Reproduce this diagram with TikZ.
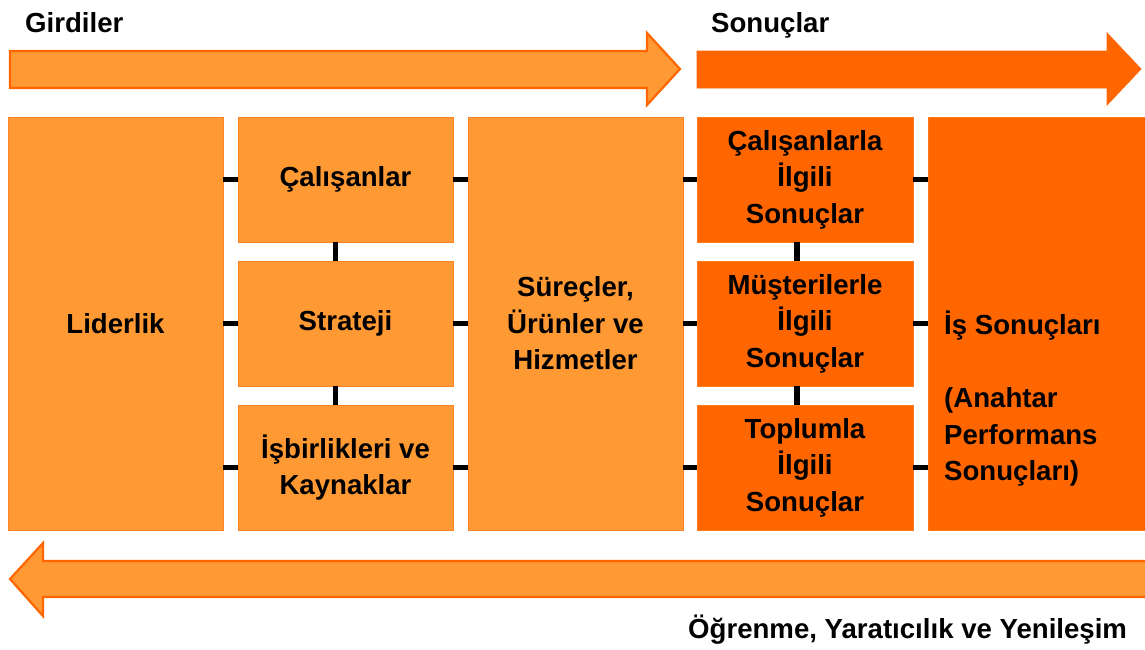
\documentclass[tikz,border=0pt]{standalone}
\usepackage{fontspec}
\setmainfont{Liberation Sans}
\definecolor{lor}{HTML}{FF9933}
\definecolor{dor}{HTML}{FF6600}
\definecolor{lorline}{HTML}{FF8224}
\definecolor{dorline}{HTML}{FF7A1C}
\begin{document}
\begin{tikzpicture}[x=1pt,y=-1pt,
  txt/.style={font=\fontsize{27.6}{36.5}\selectfont\bfseries, inner sep=0pt},
  lbox/.style={txt, draw=lorline, line width=0.8pt, fill=lor, align=center, minimum width=215pt},
  dbox/.style={txt, draw=dorline, line width=0.8pt, fill=dor, align=center, minimum width=216pt},
  tallh/.style={minimum height=413pt},
  shorth/.style={minimum height=125pt},
  conn/.style={draw=black, line width=5.5pt}
]
\useasboundingbox (0,0) rectangle (1145,649);
\begin{scope}
\clip (0,0) rectangle (1145,649);
% top arrows
\fill[lor, draw=dor, line width=2.2pt, line join=miter]
  (10,51) -- (647,51) -- (647,33) -- (680,69) -- (647,105) -- (647,88) -- (10,88) -- cycle;
\fill[dor, draw=dor, line width=0.8pt]
  (697,51) -- (1107,51) -- (1107,33) -- (1141,69) -- (1107,105) -- (1107,88) -- (697,88) -- cycle;
% bottom arrow
\fill[lor, draw=dor, line width=2.2pt, line join=miter]
  (1160,561) -- (43,561) -- (43,543) -- (10,579) -- (43,616) -- (43,597) -- (1160,597) -- cycle;
\end{scope}

\node[txt, anchor=base west] (gird) at (25,32) {Girdiler};
\node[txt, anchor=base west] (sonu) at (711,32) {Sonuçlar};
\node[txt, anchor=base west] (ogren) at (688,638) {Öğrenme, Yaratıcılık ve Yenileşim};

% boxes
\node[lbox, tallh] (lid) at (115.5,323.5) {Liderlik};
\node[lbox, shorth] (cal) at (345.5,179.5) {Çalışanlar};
\node[lbox, shorth] (str) at (345.5,323.5) {Strateji};
\node[lbox, shorth] (isb) at (345.5,467.5) {İşbirlikleri ve\\Kaynaklar};
\node[lbox, tallh] (sur) at (575.5,323.5) {Süreçler,\\Ürünler ve\\Hizmetler};
\node[dbox, shorth] (ca) at (805,179.5) {Çalışanlarla\\İlgili\\Sonuçlar};
\node[dbox, shorth] (cb) at (805,323.5) {Müşterilerle\\İlgili\\Sonuçlar};
\node[dbox, shorth] (cc) at (805,467.5) {Toplumla\\İlgili\\Sonuçlar};
\node[dbox, tallh, minimum width=218pt] (is) at (1037,323.5) {};
\node[txt, anchor=west, align=left] (istxt) at (944,399) {İş Sonuçları\\[36.5pt](Anahtar\\Performans\\Sonuçları)};

% connectors
\foreach \b in {cal,str,isb}{
  \draw[conn] (\b.west -| lid.east) -- (\b.west);
  \draw[conn] (\b.east) -- (\b.east -| sur.west);
}
\foreach \b in {ca,cb,cc}{
  \draw[conn] (\b.west -| sur.east) -- (\b.west);
  \draw[conn] (\b.east) -- (\b.east -| is.west);
}
\draw[conn] ([xshift=-10pt]cal.south) -- ([xshift=-10pt]str.north);
\draw[conn] ([xshift=-10pt]str.south) -- ([xshift=-10pt]isb.north);
\draw[conn] ([xshift=-8pt]ca.south) -- ([xshift=-8pt]cb.north);
\draw[conn] ([xshift=-8pt]cb.south) -- ([xshift=-8pt]cc.north);
\end{tikzpicture}
\end{document}
